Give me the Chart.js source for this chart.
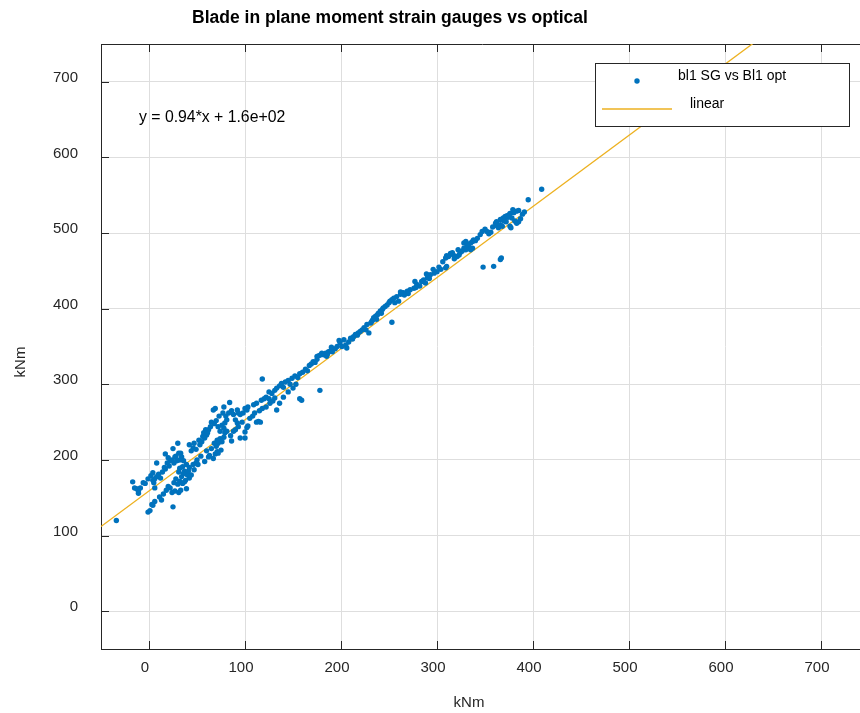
<!DOCTYPE html>
<html>
<head>
<meta charset="utf-8">
<script src="https://cdn.jsdelivr.net/npm/chart.js@4.4.1/dist/chart.umd.min.js"></script>
<style>
  body { margin: 0; background: #fff; overflow: hidden; }
  #wrap { width: 860px; height: 713px; overflow: hidden; }
</style>
</head>
<body>
<div id="wrap"><canvas id="chart" width="864" height="713"></canvas></div>
<script>
const chartTitle = "Blade in plane moment strain gauges vs optical";
const xLabel = "kNm";
const yLabel = "kNm";
const fitText = "y = 0.94*x + 1.6e+02";
const seriesName = "bl1 SG vs Bl1 opt";
const fitName = "linear";

const xTicks = [0, 100, 200, 300, 400, 500, 600, 700];
const yTicks = [0, 100, 200, 300, 400, 500, 600, 700];

// fitted line end points
const fitX = [-50, 740];
const fitY = [112, 855];

// optical (x) and strain gauge (y) values
const optX = [
  -34, -17, -15, -13, -11, -9, -11, -6, -4,
  -1, 2, 4, 6, 4, 8,
  -1, 1, 3, 4, 6, 11, 13, 6,
  17, 17, 20, 22, 25,
  22, 24, 27, 31,
  25, 27, 31, 30,
  32, 33, 35, 37, 32, 31,
  37, 38, 42, 35, 40, 32, 33, 39,
  39, 42, 46, 49, 51,
  42, 46, 49, 53, 56, 60, 62, 58,
  62, 63, 69, 67, 71, 72, 75, 72, 71, 76, 78, 79, 81,
  72, 76, 78, 74, 79, 81,
  67, 69, 78, 84,
  92, 93, 95, 98, 100, 102, 103,
  92, 90, 100, 102, 103, 100, 90, 95, 86,
  112, 114, 116,
  109, 112, 117, 120, 125,
  133, 136, 159, 157,
  5, 8, 10, 12, 14, 16, 19, 21, 24, 26, 28, 29, 34, 36, 44, 47, 52, 55, 57, 59, 61, 64, 65, 68, 70, 73, 77, 80, 83, 86, 88,
  15, 18, 20, 26, 28, 30, 34, 36, 41, 44, 47, 50, 54, 58, 60, 65, 68, 70, 74, 85, 88, 93, 97, 105, 108, 110, 115, 118, 122, 126, 129, 131,
  118, 122, 125, 128, 131, 133, 136, 138, 140, 142, 145, 147, 149, 152, 155, 157, 160, 163, 165, 167, 169, 171, 173, 175, 177, 180, 182, 185, 187, 178, 140, 145, 150, 153,
  409, 395,
  385, 383, 380, 376, 375, 373, 371, 369, 368, 366, 362, 361, 362,
  387, 385, 383, 377, 376, 366, 368, 364,
  356, 354, 352, 347,
  366, 367, 359, 348,
  342, 338, 337, 335, 333, 331, 330, 328, 326, 324, 323, 321, 319, 317, 316, 314, 312, 310, 309,
  337, 331, 335, 328, 330,
  310, 309, 304, 300, 297, 293, 290, 286, 288, 284, 279, 276, 272, 269, 265, 262, 258, 255, 253, 251, 250, 248, 244, 243, 241, 239, 238, 236, 234, 232, 231, 227, 224, 222, 220, 218, 215, 213, 210, 203, 199, 196, 189, 184, 179, 175,
  253, 229, 206, 289, 277, 262,
  345, 350, 358, 372, 378, 381, 389, 391, 379, 374, 370, 340, 322, 318, 306, 302, 296, 292, 282, 278, 270, 266, 260, 256, 246, 242, 237, 233, 226, 217, 212, 208, 205, 201, 194, 191, 186, 198, 190
];

const sgY = [
  120, 171, 163, 162, 159, 163, 156, 170, 169,
  175, 179, 173, 175, 183, 196,
  131, 133, 141, 140, 145, 151, 147, 163,
  188, 208, 203, 199, 138,
  163, 157, 159, 157,
  215, 204, 209, 222,
  200, 209, 191, 185, 189, 184,
  171, 173, 176, 169, 180, 172, 160, 162,
  194, 190, 194, 196, 194,
  220, 216, 214, 220, 231, 233, 240, 229,
  204, 206, 208, 202, 211, 209, 213, 222, 226, 224, 230, 236, 238,
  244, 246, 242, 238, 249, 253,
  266, 268, 270, 276,
  266, 262, 260, 262, 268, 266, 270,
  249, 253, 237, 243, 245, 229, 240, 229, 225,
  250, 251, 250,
  273, 275, 279, 281, 281,
  266, 275, 279, 281,
  170, 178, 181, 176, 184, 190, 196, 192, 200, 196, 205, 199, 204, 199, 212, 222, 226, 224, 236, 240, 236, 244, 250, 248, 252, 258, 262, 258, 262, 265, 260,
  155, 160, 165, 170, 175, 168, 178, 182, 185, 180, 187, 200, 205, 198, 212, 215, 222, 218, 228, 232, 238, 244, 250, 255, 258, 262, 265, 268, 270, 275, 278, 282,
  307, 283, 290, 288, 292, 295, 298, 301, 296, 303, 305, 300, 308, 311, 309, 314, 316, 320, 318, 325, 327, 330, 329, 333, 338, 341, 339, 337, 343, 292, 283, 290, 295, 300,
  558, 544,
  530, 529, 527, 526, 524, 523, 522, 520, 518, 518, 515, 513, 510,
  519, 515, 513, 507, 509, 511, 509, 507,
  501, 499, 502, 502,
  465, 467, 456, 455,
  493, 491, 489, 487, 482, 480, 478, 480, 476, 474, 471, 469, 468, 471, 474, 473, 469, 470, 467,
  480, 485, 478, 487, 489,
  456, 454, 452, 449, 447, 445, 441, 438, 434, 436, 432, 427, 425, 423, 421, 419, 416, 414, 412, 410, 408, 405, 401, 399, 397, 394, 392, 390, 388, 383, 381, 379, 375, 372, 370, 368, 366, 363, 361, 359, 355, 350, 344, 341, 339, 337,
  382, 368, 348, 446, 436, 422,
  498, 505, 508, 515, 520, 516, 525, 528, 531, 521, 516, 490, 478, 466, 462, 455, 452, 440, 430, 428, 420, 418, 410, 408, 403, 394, 386, 385, 372, 365, 360, 356, 352, 350, 347, 343, 340, 358, 349
];

const axisColor = "#262626";
const gridColor = "#dedede";
const dotColor = "#0072BD";
const fitColor = "#EDB120";
const fontFamily = "'Liberation Sans', Arial, Helvetica, sans-serif";

const points = optX.map((x, i) => ({ x: x, y: sgY[i] }));
const fitPoints = fitX.map((x, i) => ({ x: x, y: fitY[i] }));

// inward ticks, top border, titles, equation and legend box
const decorations = {
  id: "decorations",
  beforeDatasetsDraw(chart) {
    const ctx = chart.ctx;
    const area = chart.chartArea;
    const xs = chart.scales.x;
    const ys = chart.scales.y;
    ctx.save();
    ctx.strokeStyle = axisColor;
    ctx.lineWidth = 1;
    ctx.beginPath();
    ctx.moveTo(area.left, area.top + 0.5);
    ctx.lineTo(chart.width, area.top + 0.5);
    xTicks.forEach(v => {
      const px = Math.round(xs.getPixelForValue(v)) + 0.5;
      ctx.moveTo(px, area.bottom);
      ctx.lineTo(px, area.bottom - 8);
      ctx.moveTo(px, area.top);
      ctx.lineTo(px, area.top + 8);
    });
    yTicks.forEach(v => {
      const py = Math.round(ys.getPixelForValue(v)) + 0.5;
      ctx.moveTo(area.left, py);
      ctx.lineTo(area.left + 8, py);
    });
    ctx.stroke();
    ctx.restore();
  },
  afterDraw(chart) {
    const ctx = chart.ctx;
    ctx.save();
    ctx.fillStyle = "#000";
    ctx.textBaseline = "middle";

    ctx.font = "bold 17.5px " + fontFamily;
    ctx.textAlign = "center";
    ctx.fillText(chartTitle, 390, 18);

    ctx.fillStyle = axisColor;
    ctx.font = "15px " + fontFamily;
    ctx.fillText(xLabel, 469, 703);
    ctx.save();
    ctx.translate(21, 362);
    ctx.rotate(-Math.PI / 2);
    ctx.fillText(yLabel, 0, 0);
    ctx.restore();

    ctx.fillStyle = "#000";
    ctx.textAlign = "left";
    ctx.font = "15.8px " + fontFamily;
    ctx.fillText(fitText, 139, 118);

    // legend
    ctx.fillStyle = "#fff";
    ctx.fillRect(595, 63, 254, 63);
    ctx.strokeStyle = axisColor;
    ctx.lineWidth = 1;
    ctx.strokeRect(595.5, 63.5, 254, 63);
    ctx.fillStyle = dotColor;
    ctx.beginPath();
    ctx.arc(637, 81, 2.7, 0, Math.PI * 2);
    ctx.fill();
    ctx.strokeStyle = fitColor;
    ctx.lineWidth = 1.5;
    ctx.beginPath();
    ctx.moveTo(602, 109);
    ctx.lineTo(672, 109);
    ctx.stroke();
    ctx.fillStyle = "#000";
    ctx.font = "14px " + fontFamily;
    ctx.fillText(seriesName, 678, 76);
    ctx.fillText(fitName, 690, 104);
    ctx.restore();
  }
};

new Chart(document.getElementById("chart"), {
  type: "scatter",
  data: {
    datasets: [
      {
        label: seriesName,
        data: points,
        backgroundColor: dotColor,
        borderWidth: 0,
        pointRadius: 2.7
      },
      {
        type: "line",
        label: fitName,
        data: fitPoints,
        borderColor: fitColor,
        borderWidth: 1.3,
        pointRadius: 0,
        fill: false
      }
    ]
  },
  options: {
    responsive: false,
    animation: false,
    layout: { padding: { top: 44, left: 0, right: 0, bottom: 0 } },
    plugins: {
      legend: { display: false },
      tooltip: { enabled: false }
    },
    scales: {
      x: {
        type: "linear",
        min: -50,
        max: 740.6,
        afterBuildTicks: scale => { scale.ticks = xTicks.map(v => ({ value: v })); },
        afterFit: scale => { scale.height = 64; },
        grid: { color: gridColor, drawTicks: false },
        border: { display: true, color: axisColor, width: 1 },
        ticks: {
          color: axisColor,
          font: { family: fontFamily, size: 15 },
          padding: 10,
          labelOffset: -4,
          maxRotation: 0
        }
      },
      y: {
        type: "linear",
        min: -50,
        max: 750,
        afterBuildTicks: scale => { scale.ticks = yTicks.map(v => ({ value: v })); },
        afterFit: scale => { scale.width = 101; },
        grid: { color: gridColor, drawTicks: false },
        border: { display: true, color: axisColor, width: 1 },
        ticks: {
          color: axisColor,
          font: { family: fontFamily, size: 15 },
          padding: 23,
          labelOffset: -4
        }
      }
    }
  },
  plugins: [decorations]
});
</script>
</body>
</html>
